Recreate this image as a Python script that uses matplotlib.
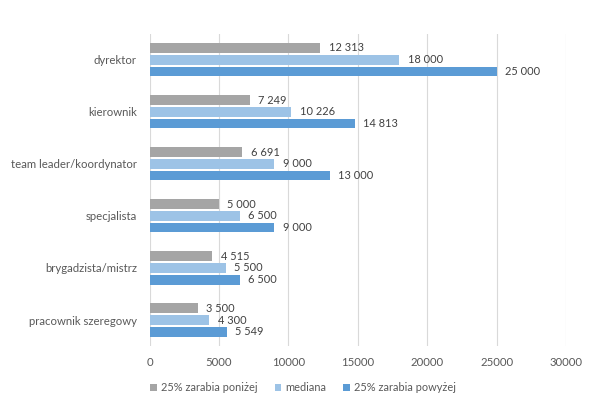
import matplotlib
matplotlib.use("Agg")
import matplotlib.pyplot as plt
import numpy as np

categories = ["dyrektor", "kierownik", "team leader/koordynator", "specjalista",
              "brygadzista/mistrz", "pracownik szeregowy"]
series_names = ["25% zarabia poniżej", "mediana", "25% zarabia powyżej"]
low = [12313, 7249, 6691, 5000, 4515, 3500]
median = [18000, 10226, 9000, 6500, 5500, 4300]
high = [25000, 14813, 13000, 9000, 6500, 5549]
colors = ["#A5A5A5", "#9DC3E6", "#5B9BD5"]
xticks = [0, 5000, 10000, 15000, 20000, 25000, 30000]

plt.rcParams['font.family'] = ['Lato', 'DejaVu Sans']

fig = plt.figure(figsize=(5.98, 4.09), dpi=100)
ax = fig.add_axes([0.25, 0.154, 0.6965, 0.763])

n = len(categories)
ypos = np.arange(n)
bh = 0.175
step = 0.23
text_color = "#404040"
fs = 8.2
for i, (vals, name, c) in enumerate(zip([low, median, high], series_names, colors)):
    y = ypos + (i - 1) * step
    ax.barh(y, vals, height=bh, color=c, label=name, zorder=3)
    for yy, v in zip(y, vals):
        lab = f"{v:,}".replace(",", " ")
        ax.annotate(lab, (v, yy), xytext=(6, 0), textcoords="offset points",
                    va="center", ha="left", fontsize=7.9, color=text_color)

ax.set_ylim(n - 0.5, -0.5)
ax.set_xlim(0, 30000)
ax.set_xticks(xticks)
ax.set_xticklabels([str(t) for t in xticks], fontsize=fs, color="#595959")
ax.set_yticks(ypos)
ax.set_yticklabels(categories, fontsize=fs, color="#595959")
ax.tick_params(length=0, pad=8)
ax.tick_params(axis="y", pad=9)
ax.grid(axis="x", color="#D9D9D9", linewidth=0.8, zorder=0)
for s in ax.spines.values():
    s.set_visible(False)

handles, labels = ax.get_legend_handles_labels()
fig.legend(handles, labels, loc="center", bbox_to_anchor=(0.507, 0.052), ncol=3,
           frameon=False, fontsize=7.9, handlelength=0.6, handleheight=0.6,
           handletextpad=0.4, columnspacing=1.5, labelcolor="#595959")

fig.savefig("out.png", dpi=100)
